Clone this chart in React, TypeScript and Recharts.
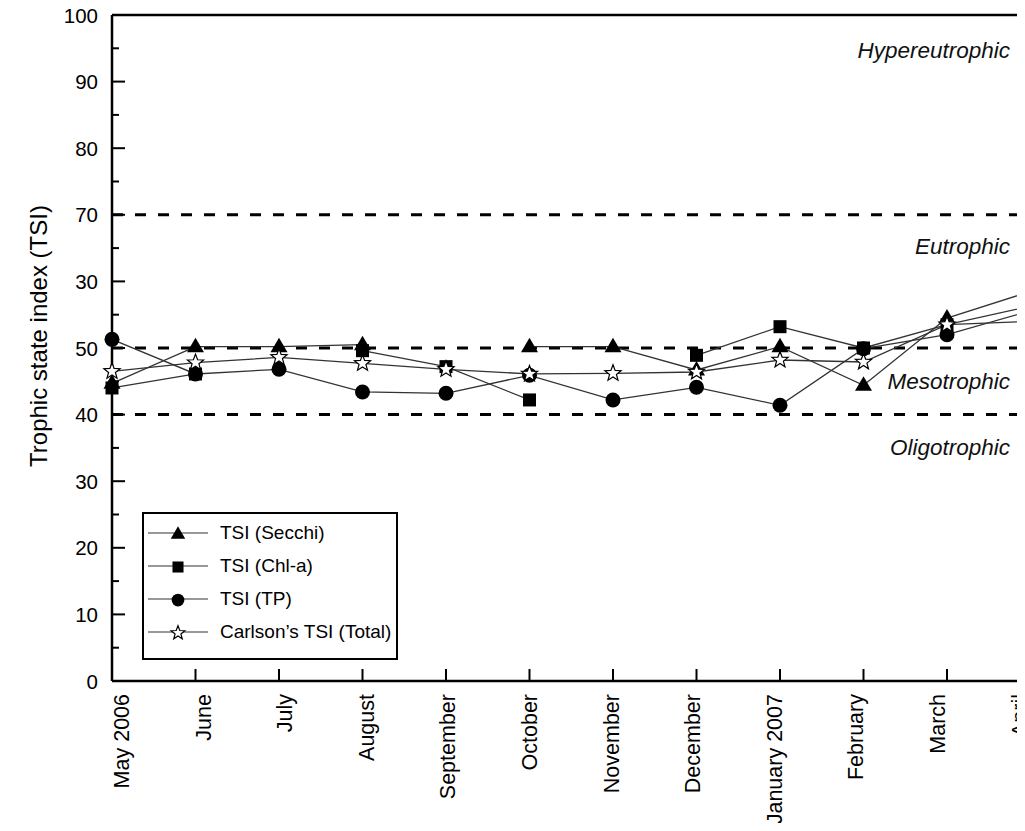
import { Legend, Line, LineChart, ReferenceLine, XAxis, YAxis } from 'recharts';

const months = [
  'May 2006', 'June', 'July', 'August', 'September', 'October',
  'November', 'December', 'January 2007', 'February', 'March', 'April',
];
const secchi = [44.7, 50.2, 50.2, 50.5, null, 50.2, 50.2, 46.7, 50.2, 44.4, 54.5, 58.5];
const chla = [44.0, 46.1, null, 49.6, 47.2, 42.2, null, 48.9, 53.2, 50.0, 53.5, 56.3];
const tp = [51.3, 46.1, 46.8, 43.4, 43.2, 45.9, 42.2, 44.1, 41.4, 49.9, 52.0, 55.6];
const total = [46.5, 47.8, 48.6, 47.7, 46.8, 46.1, 46.2, 46.4, 48.2, 47.9, 53.5, 54.0];

const yTicks = [0, 5, 10, 15, 20, 25, 30, 35, 40, 45, 50, 55, 60, 65, 70, 75, 80, 85, 90, 95, 100];
const yLabelValues = [0, 10, 20, 30, 40, 50, 60, 70, 80, 90, 100];
const yLabelTexts = ['0', '10', '20', '30', '40', '50', '30', '70', '80', '90', '100'];

const boundaries = [40, 50, 70];
const regionNames = ['Hypereutrophic', 'Eutrophic', 'Mesotrophic', 'Oligotrophic'];
const regionLabelY = [94.7, 65.3, 45.0, 35.1];

const FONT = '"Liberation Sans", Arial, sans-serif';

type Kind = 'triangle' | 'square' | 'circle' | 'star';

const series: { key: string; name: string; kind: Kind }[] = [
  { key: 'secchi', name: 'TSI (Secchi)', kind: 'triangle' },
  { key: 'chla', name: 'TSI (Chl-a)', kind: 'square' },
  { key: 'tp', name: 'TSI (TP)', kind: 'circle' },
  { key: 'total', name: 'Carlson\u2019s TSI (Total)', kind: 'star' },
];

const rows = months.map((month, i) => ({
  month,
  secchi: secchi[i],
  chla: chla[i],
  tp: tp[i],
  total: total[i],
}));

function starPoints(cx: number, cy: number, ro: number, ri: number) {
  const pts: string[] = [];
  for (let i = 0; i < 10; i++) {
    const r = i % 2 === 0 ? ro : ri;
    const a = -Math.PI / 2 + (i * Math.PI) / 5;
    pts.push(`${cx + r * Math.cos(a)},${cy + r * Math.sin(a)}`);
  }
  return pts.join(' ');
}

function Marker({ kind, cx, cy, s = 1 }: { kind: Kind; cx: number; cy: number; s?: number }) {
  if (kind === 'triangle') {
    return (
      <polygon
        points={`${cx},${cy - 9 * s} ${cx + 8.5 * s},${cy + 5.5 * s} ${cx - 8.5 * s},${cy + 5.5 * s}`}
        fill="#000"
      />
    );
  }
  if (kind === 'square') {
    return <rect x={cx - 6.5 * s} y={cy - 6.5 * s} width={13 * s} height={13 * s} fill="#000" />;
  }
  if (kind === 'circle') {
    return <circle cx={cx} cy={cy} r={7.5 * s} fill="#000" />;
  }
  return <polygon points={starPoints(cx, cy, 8.5 * s, 3.6 * s)} fill="#fff" stroke="#000" strokeWidth={1.2} />;
}

function YTick(props: any) {
  const { x, y, payload } = props;
  const v = payload.value as number;
  const idx = yLabelValues.indexOf(v);
  const major = idx >= 0;
  return (
    <g>
      <line x1={x} x2={x + (major ? 13 : 7)} y1={y} y2={y} stroke="#000" strokeWidth={2} />
      {major && (
        <text x={x - 14} y={y} textAnchor="end" dominantBaseline="central" fontSize={20.5} fontFamily={FONT} fill="#000">
          {yLabelTexts[idx]}
        </text>
      )}
    </g>
  );
}

function XTick(props: any) {
  const { x, y, payload, index } = props;
  // labels in the source sit a little right of the first tick and drift left toward the end
  const tx = x + 10 - 1.9 * index;
  const ty = y + 13;
  return (
    <g>
      <line x1={x} x2={x} y1={y} y2={y - 12} stroke="#000" strokeWidth={2} />
      <text
        x={tx}
        y={ty}
        transform={`rotate(-90 ${tx} ${ty})`}
        textAnchor="end"
        dominantBaseline="central"
        fontSize={21.5}
        fontFamily={FONT}
        fill="#000"
      >
        {payload.value}
      </text>
    </g>
  );
}

function renderLegend() {
  return (
    <div
      style={{
        border: '2px solid #000',
        background: '#fff',
        padding: '2px 0 10px 4px',
        boxSizing: 'border-box',
        width: 256,
        fontFamily: FONT,
      }}
    >
      {series.map((s) => (
        <div key={s.key} style={{ display: 'flex', alignItems: 'center', height: 33 }}>
          <svg width={60} height={22} style={{ display: 'block' }}>
            <line x1={0} x2={60} y1={11} y2={11} stroke="#333" strokeWidth={1.2} />
            <Marker kind={s.kind} cx={30} cy={12} s={0.85} />
          </svg>
          <span style={{ marginLeft: 12, fontSize: 19, color: '#000' }}>{s.name}</span>
        </div>
      ))}
    </div>
  );
}

export default function App() {
  return (
    <div style={{ width: 1017, height: 831, overflow: 'hidden', marginTop: -8, marginBottom: -8, background: '#fff' }}>
      <LineChart width={1040} height={831} data={rows} margin={{ top: 15, right: 17.5, bottom: 0, left: 0 }}>
        <XAxis
          dataKey="month"
          interval={0}
          height={150}
          tickSize={0}
          tickMargin={0}
          tickLine={false}
          tick={XTick}
          axisLine={{ stroke: '#000', strokeWidth: 2.5 }}
        />
        <YAxis
          type="number"
          domain={[0, 100]}
          ticks={yTicks}
          interval={0}
          width={104}
          tickSize={0}
          tickMargin={0}
          tickLine={false}
          tick={YTick}
          axisLine={{ stroke: '#000', strokeWidth: 2.5 }}
          label={{
            content: (p: any) => {
              const vb = p.viewBox;
              const lx = vb.x + 30;
              const ly = vb.y + vb.height / 2 - 12;
              return (
                <text
                  x={lx}
                  y={ly}
                  transform={`rotate(-90 ${lx} ${ly})`}
                  textAnchor="middle"
                  dominantBaseline="central"
                  fontSize={24}
                  fontFamily={FONT}
                  fill="#000"
                >
                  Trophic state index (TSI)
                </text>
              );
            },
          }}
        />
        <ReferenceLine y={100} stroke="#000" strokeWidth={2.5} />
        {boundaries.map((b) => (
          <ReferenceLine key={b} y={b} stroke="#000" strokeWidth={3} strokeDasharray="11 12" />
        ))}
        {regionNames.map((name, i) => (
          <ReferenceLine
            key={name}
            y={regionLabelY[i]}
            stroke="none"
            label={(p: any) => {
              const vb = p.viewBox;
              return (
                <text
                  x={vb.x + vb.width - 20.5}
                  y={vb.y}
                  textAnchor="end"
                  dominantBaseline="central"
                  fontSize={22.5}
                  fontStyle="italic"
                  fontFamily={FONT}
                  fill="#111"
                >
                  {name}
                </text>
              );
            }}
          />
        ))}
        {series.map((s) => (
          <Line
            key={s.key}
            dataKey={s.key}
            name={s.name}
            stroke="#333"
            strokeWidth={1.3}
            isAnimationActive={false}
            dot={(p: any) =>
              p.cy == null || p.value == null ? (
                <g key={`${s.key}-${p.index}`} />
              ) : (
                <g key={`${s.key}-${p.index}`}>
                  <Marker kind={s.kind} cx={p.cx} cy={p.cy} />
                </g>
              )
            }
            activeDot={false}
          />
        ))}
        <Legend
          layout="vertical"
          align="center"
          verticalAlign="middle"
          content={renderLegend}
          wrapperStyle={{ left: 134, top: 512, width: 256 }}
        />
      </LineChart>
    </div>
  );
}
